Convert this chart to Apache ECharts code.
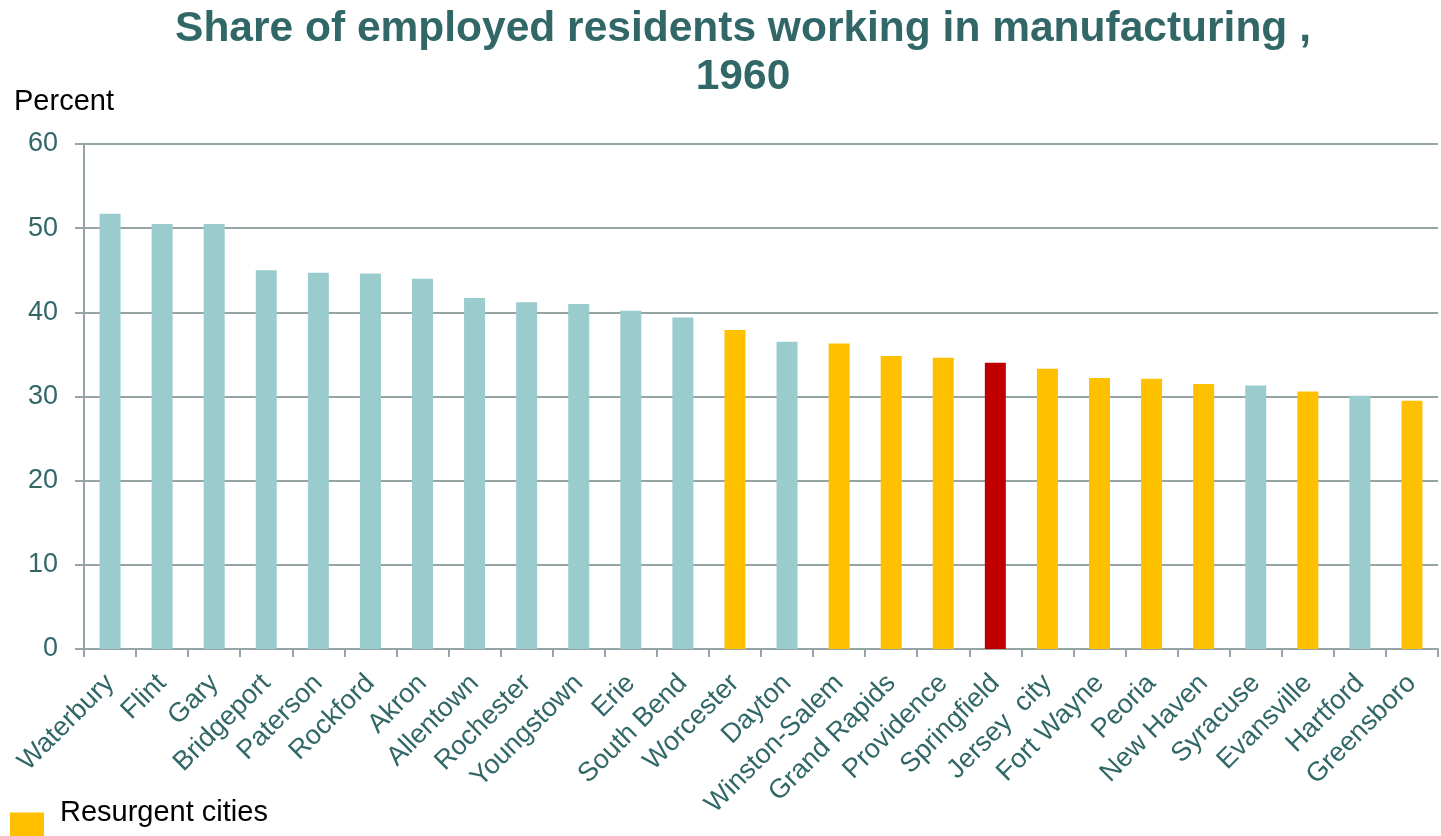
<!DOCTYPE html>
<html>
<head>
<meta charset="utf-8">
<script src="https://cdn.jsdelivr.net/npm/echarts@6/dist/echarts.min.js"></script>
<style>
  html, body { margin: 0; padding: 0; background: #fff; }
  #chart { width: 1441px; height: 836px; }
</style>
</head>
<body>
<div id="chart"></div>
<script>
// Cities ordered by manufacturing share, 1960
const cities = ['Waterbury', 'Flint', 'Gary', 'Bridgeport', 'Paterson', 'Rockford', 'Akron',
  'Allentown', 'Rochester', 'Youngstown', 'Erie', 'South Bend', 'Worcester', 'Dayton',
  'Winston-Salem', 'Grand Rapids', 'Providence', 'Springfield', 'Jersey  city', 'Fort Wayne',
  'Peoria', 'New Haven', 'Syracuse', 'Evansville', 'Hartford', 'Greensboro'];

// Percent of employed residents working in manufacturing
const shares = [51.7, 50.5, 50.5, 45.0, 44.7, 44.6, 44.0, 41.7, 41.2, 41.0, 40.2, 39.4, 37.9,
  36.5, 36.3, 34.8, 34.6, 34.0, 33.3, 32.2, 32.1, 31.5, 31.3, 30.6, 30.1, 29.5];

// Group of each city: 'other', 'resurgent', or 'focus' (Springfield)
const groups = ['other', 'other', 'other', 'other', 'other', 'other', 'other', 'other', 'other',
  'other', 'other', 'other', 'resurgent', 'other', 'resurgent', 'resurgent', 'resurgent', 'focus',
  'resurgent', 'resurgent', 'resurgent', 'resurgent', 'other', 'resurgent', 'other', 'resurgent'];

const yTicks = { min: 0, max: 60, interval: 10 };

const teal = '#9ACCCD';
const gold = '#FFC000';
const red = '#C00000';
const textTeal = '#326767';
const gridGray = '#95A5A5';

function pick(group) {
  return shares.map((v, i) => (groups[i] === group ? v : null));
}

const chart = echarts.init(document.getElementById('chart'), null, { renderer: 'canvas' });

chart.setOption({
  animation: false,
  textStyle: { fontFamily: 'Liberation Sans, Arial, sans-serif' },
  title: {
    text: 'Share of employed residents working in manufacturing ,\n1960',
    left: 738,
    textAlign: 'center',
    top: 0,
    textStyle: {
      fontSize: 42.5,
      fontWeight: 'bold',
      color: textTeal,
      lineHeight: 48,
      fontFamily: 'Liberation Sans, Arial, sans-serif'
    }
  },
  legend: {
    data: ['Resurgent cities'],
    left: 10,
    top: 798,
    padding: 0,
    icon: 'rect',
    itemWidth: 34,
    itemHeight: 34,
    formatter: '{t|{name}}',
    textStyle: {
      color: '#000',
      rich: {
        t: { fontSize: 29, color: '#000', padding: [0, 0, 34, 11] }
      }
    }
  },
  grid: { left: 84, right: 3, top: 144, bottom: 187, containLabel: false },
  xAxis: {
    type: 'category',
    data: cities,
    boundaryGap: true,
    axisLine: { lineStyle: { color: gridGray, width: 2 } },
    axisTick: { show: true, alignWithLabel: false, length: 8, lineStyle: { color: gridGray, width: 2 } },
    axisLabel: {
      interval: 0,
      rotate: 45,
      margin: 30,
      fontSize: 27,
      color: textTeal
    }
  },
  yAxis: {
    type: 'value',
    min: yTicks.min,
    max: yTicks.max,
    interval: yTicks.interval,
    name: 'Percent',
    nameLocation: 'end',
    nameGap: 0,
    nameTextStyle: { fontSize: 29, color: '#000', align: 'left', padding: [0, 0, 28, -70] },
    axisLine: { show: true, lineStyle: { color: gridGray, width: 2 } },
    axisTick: { show: true, length: 9, lineStyle: { color: gridGray, width: 2 } },
    axisLabel: { fontSize: 27, color: textTeal, margin: 26 },
    splitLine: { lineStyle: { color: gridGray, width: 2 } }
  },
  series: [
    {
      name: 'Other cities',
      type: 'bar',
      stack: 'share',
      barWidth: 21,
      data: pick('other'),
      itemStyle: { color: teal }
    },
    {
      name: 'Resurgent cities',
      type: 'bar',
      stack: 'share',
      barWidth: 21,
      data: pick('resurgent'),
      itemStyle: { color: gold }
    },
    {
      name: 'Springfield',
      type: 'bar',
      stack: 'share',
      barWidth: 21,
      data: pick('focus'),
      itemStyle: { color: red }
    }
  ]
});
</script>
</body>
</html>
